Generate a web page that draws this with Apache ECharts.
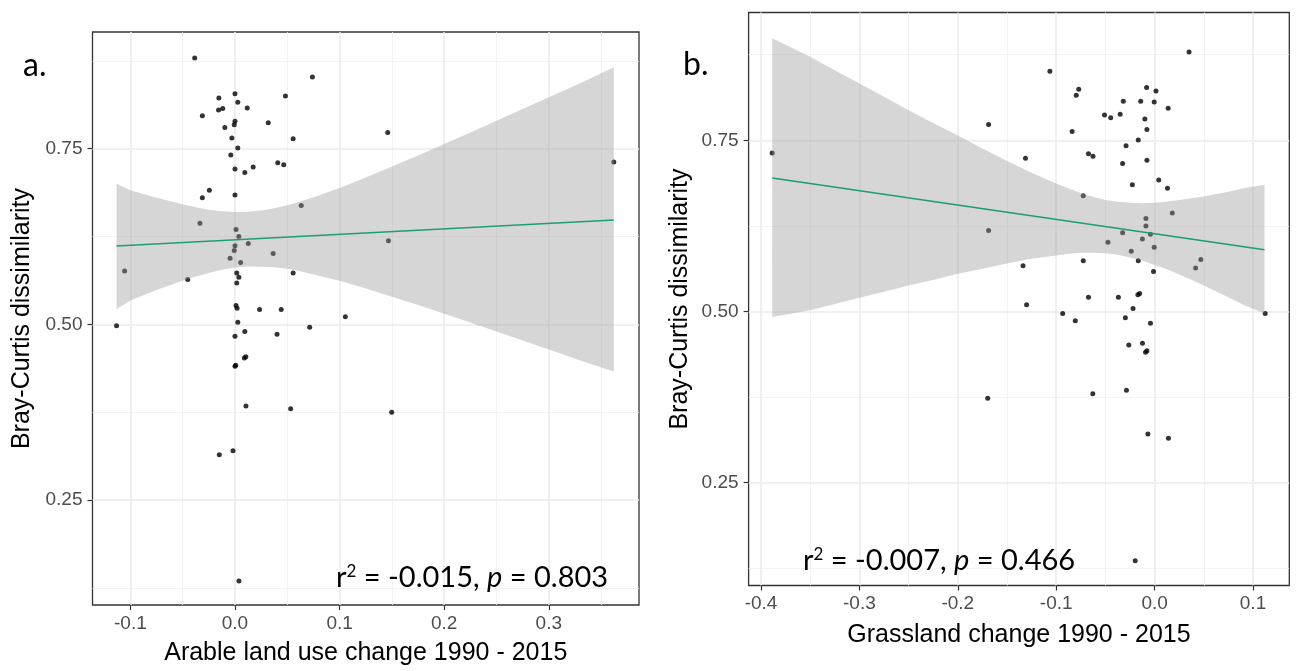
<!DOCTYPE html>
<html><head><meta charset="utf-8">
<script src="https://cdn.jsdelivr.net/npm/echarts@6/dist/echarts.min.js"></script>
<style>html,body{margin:0;padding:0;background:#fff}#c{width:1298px;height:671px}</style>
</head><body><div id="c"></div>
<script>
// Panel a: arable land use change vs Bray-Curtis dissimilarity
const arableX = [-0.0385,0.074,0.000,-0.0154,0.0482,0.0027,0.0117,-0.0157,-0.0117,-0.0312,0.0318,0.000,-0.0007,-0.0097,-0.003,0.0556,0.146,0.0027,-0.004,0.000,0.0174,0.0094,0.0409,0.0466,0.3621,-0.0245,-0.0312,0.000,0.0633,-0.0335,0.001,0.0037,0.0127,0.000,-0.0007,0.0365,0.1467,-0.0047,0.0054,-0.1055,-0.0452,0.0556,0.0017,0.0037,0.0017,0.001,0.002,0.0235,0.0442,0.1055,0.0027,-0.1132,0.0714,0.000,0.0094,0.0402,0.009,0.0104,0.000,0.0007,0.0105,0.0532,0.1498,-0.015,-0.0019,0.0038];
const arableY = [0.879,0.852,0.828,0.822,0.825,0.816,0.808,0.805,0.807,0.797,0.787,0.789,0.784,0.780,0.765,0.764,0.773,0.751,0.741,0.721,0.724,0.716,0.730,0.727,0.731,0.691,0.680,0.684,0.669,0.644,0.635,0.625,0.615,0.612,0.605,0.601,0.619,0.594,0.588,0.576,0.564,0.573,0.573,0.567,0.559,0.527,0.523,0.521,0.521,0.511,0.503,0.498,0.496,0.483,0.490,0.486,0.452,0.454,0.4405,0.442,0.384,0.380,0.375,0.3145,0.320,0.135];
// Panel b: grassland change vs Bray-Curtis dissimilarity
const grassX = [-0.3886,0.035,-0.1064,-0.0771,-0.0796,-0.0081,0.0014,-0.0318,-0.0141,-0.0004,0.0138,-0.0509,-0.0446,-0.035,-0.0099,-0.0078,-0.1687,-0.0838,-0.0166,-0.029,-0.1312,-0.0672,-0.0626,-0.0325,-0.0078,-0.0226,0.0042,0.0131,-0.0725,0.018,-0.0088,-0.0088,-0.1687,-0.0325,-0.0042,-0.0124,-0.0474,-0.0237,-0.0004,0.047,0.0417,-0.0725,-0.0166,-0.1337,-0.0011,-0.0672,-0.0368,-0.017,-0.0152,-0.1301,-0.0219,-0.0934,0.1124,-0.0806,-0.0297,-0.0042,-0.0262,-0.0123,-0.0092,-0.0078,-0.0628,-0.0286,-0.0068,0.0141,-0.0197,-0.1696];
const grassY = [0.7315,0.879,0.851,0.8245,0.816,0.827,0.822,0.807,0.807,0.806,0.797,0.787,0.783,0.788,0.781,0.766,0.773,0.763,0.7505,0.742,0.724,0.7305,0.7266,0.716,0.721,0.685,0.692,0.680,0.669,0.644,0.636,0.625,0.6185,0.615,0.613,0.606,0.601,0.588,0.594,0.576,0.5635,0.574,0.574,0.567,0.5586,0.521,0.521,0.5245,0.5265,0.510,0.5046,0.497,0.497,0.4866,0.491,0.483,0.4513,0.4538,0.4406,0.4426,0.380,0.385,0.321,0.315,0.136,0.3735];

// Confidence bands
const arableBandX  = [-0.1132,-0.1,-0.075,-0.05,-0.0375,-0.025,-0.0125,0,0.0125,0.025,0.0375,0.05,0.0625,0.075,0.1,0.125,0.15,0.175,0.2,0.225,0.25,0.275,0.3,0.33,0.3621];
const arableBandUp = [0.700,0.691,0.680,0.671,0.6667,0.663,0.661,0.660,0.6603,0.662,0.6652,0.6695,0.6748,0.681,0.694,0.709,0.7246,0.7404,0.7566,0.7731,0.7896,0.8064,0.8231,0.8432,0.8658];
const arableBandLo = [0.522,0.534,0.549,0.562,0.5681,0.573,0.5776,0.581,0.5823,0.582,0.5812,0.579,0.5756,0.571,0.562,0.551,0.5394,0.5274,0.515,0.5025,0.4898,0.477,0.4641,0.4486,0.4329];
const grassBandX  = [-0.3886,-0.35,-0.325,-0.3,-0.275,-0.25,-0.225,-0.2,-0.175,-0.15,-0.125,-0.1,-0.0875,-0.075,-0.0625,-0.05,-0.0375,-0.025,-0.0125,0,0.0125,0.025,0.0375,0.05,0.0625,0.075,0.09,0.1117];
const grassBandUp = [0.899,0.872,0.8523,0.833,0.8137,0.794,0.7754,0.757,0.738,0.720,0.7028,0.687,0.6796,0.673,0.6677,0.663,0.6602,0.659,0.6582,0.659,0.6605,0.663,0.6654,0.668,0.6718,0.675,0.680,0.685];
const grassBandLo = [0.492,0.502,0.5111,0.520,0.5289,0.538,0.5462,0.555,0.5626,0.570,0.577,0.582,0.5844,0.586,0.5859,0.585,0.5828,0.579,0.5744,0.568,0.5617,0.554,0.5464,0.538,0.5294,0.521,0.5098,0.497];

// Fitted lines
const arableFitX = [-0.1132, 0.3621];
const arableFitY = [0.6115, 0.6484];
const grassFitX = [-0.3886, 0.1117];
const grassFitY = [0.695, 0.5903];

// Ticks
const arableXTicks = [-0.1, 0, 0.1, 0.2, 0.3];
const arableXMinor = [-0.05, 0.05, 0.15, 0.25, 0.35];
const grassXTicks = [-0.4, -0.3, -0.2, -0.1, 0, 0.1];
const grassXMinor = [-0.35, -0.25, -0.15, -0.05, 0.05];
const yTicks = [0.25, 0.5, 0.75];
const yMinor = [0.125, 0.375, 0.625, 0.875];

const FONT = "'Liberation Sans', Arial, sans-serif";
const ANNOT = "Lato, 'Open Sans', sans-serif";

const arableRange = { x: [-0.1362, 0.3862], y: [0.1007, 0.916] };
const grassRange  = { x: [-0.4126, 0.1369], y: [0.0999, 0.9367] };

function zip(a, b) { return a.map((v, i) => [v, b[i]]); }

function xAxisCfg(gi, rng, ticks, name, gap) {
  return {
    type: 'value', gridIndex: gi, min: rng.x[0], max: rng.x[1],
    axisLine: { show: false, onZero: false },
    axisTick: { show: true, customValues: ticks, length: 5, lineStyle: { color: '#333', width: 1.2 } },
    axisLabel: { customValues: ticks, formatter: v => v.toFixed(1), color: '#4d4d4d', fontSize: 19, fontFamily: FONT, margin: 9 },
    splitLine: { show: false },
    name: name, nameLocation: 'middle', nameGap: gap,
    nameTextStyle: { color: '#000', fontSize: 25, fontFamily: FONT }
  };
}
function yAxisCfg(gi, rng, gap) {
  return {
    type: 'value', gridIndex: gi, min: rng.y[0], max: rng.y[1],
    axisLine: { show: false, onZero: false },
    axisTick: { show: true, customValues: yTicks, length: 5, lineStyle: { color: '#333', width: 1.2 } },
    axisLabel: { customValues: yTicks, formatter: v => v.toFixed(2), color: '#4d4d4d', fontSize: 19, fontFamily: FONT, margin: 10 },
    splitLine: { show: false },
    name: 'Bray-Curtis dissimilarity', nameLocation: 'middle', nameGap: gap,
    nameTextStyle: { color: '#000', fontSize: 25, fontFamily: FONT }
  };
}
function gridLines(gi, rng, xMaj, xMin) {
  const maj = { color: '#ebebeb', width: 1.5, type: 'solid' };
  const mnr = { color: '#f0f0f0', width: 0.8, type: 'solid' };
  const d = [];
  const vx = (v, st) => d.push([{ coord: [v, rng.y[0]], lineStyle: st }, { coord: [v, rng.y[1]] }]);
  const hy = (v, st) => d.push([{ coord: [rng.x[0], v], lineStyle: st }, { coord: [rng.x[1], v] }]);
  xMin.forEach(v => vx(v, mnr));
  yMinor.forEach(v => hy(v, mnr));
  xMaj.forEach(v => vx(v, maj));
  yTicks.forEach(v => hy(v, maj));
  return {
    type: 'line', xAxisIndex: gi, yAxisIndex: gi, data: [], z: 0, silent: true,
    markLine: { z: 0, silent: true, symbol: ['none', 'none'], label: { show: false }, animation: false, data: d }
  };
}
function band(gi, bx, up, lo) {
  return {
    type: 'custom', xAxisIndex: gi, yAxisIndex: gi, z: 3, silent: true,
    data: [[bx[0], up[0]]],
    renderItem: function (params, api) {
      const pts = [];
      for (let i = 0; i < bx.length; i++) pts.push(api.coord([bx[i], up[i]]));
      for (let i = bx.length - 1; i >= 0; i--) pts.push(api.coord([bx[i], lo[i]]));
      return { type: 'polygon', shape: { points: pts }, style: { fill: 'rgba(153,153,153,0.4)' } };
    }
  };
}
const annotRich = {
  t: { fontSize: 29, fontFamily: ANNOT, fill: '#000' },
  s: { fontSize: 17, fontFamily: ANNOT, verticalAlign: 'top', fill: '#000' },
  i: { fontSize: 29, fontFamily: ANNOT, fontStyle: 'italic', fill: '#000' }
};

const chart = echarts.init(document.getElementById('c'), null, { renderer: 'canvas' });
chart.setOption({
  animation: false,
  backgroundColor: '#fff',
  grid: [
    { left: 92.5, top: 32, width: 546.5, height: 575, show: true, borderColor: '#333', borderWidth: 1.3, backgroundColor: '#fff' },
    { left: 748.6, top: 12.5, width: 540.7, height: 573, show: true, borderColor: '#333', borderWidth: 1.3, backgroundColor: '#fff' }
  ],
  xAxis: [
    xAxisCfg(0, arableRange, arableXTicks, 'Arable land use change 1990 - 2015', 36),
    xAxisCfg(1, grassRange, grassXTicks, 'Grassland change 1990 - 2015', 37)
  ],
  yAxis: [
    yAxisCfg(0, arableRange, 58),
    yAxisCfg(1, grassRange, 56)
  ],
  series: [
    gridLines(0, arableRange, arableXTicks, arableXMinor),
    gridLines(1, grassRange, grassXTicks, grassXMinor),
    { type: 'scatter', xAxisIndex: 0, yAxisIndex: 0, z: 2, symbolSize: 5, itemStyle: { color: '#000' }, data: zip(arableX, arableY) },
    { type: 'scatter', xAxisIndex: 1, yAxisIndex: 1, z: 2, symbolSize: 5, itemStyle: { color: '#000' }, data: zip(grassX, grassY) },
    band(0, arableBandX, arableBandUp, arableBandLo),
    band(1, grassBandX, grassBandUp, grassBandLo),
    { type: 'line', xAxisIndex: 0, yAxisIndex: 0, z: 4, symbol: 'none', silent: true, lineStyle: { color: '#1b9e77', width: 1.6 }, data: zip(arableFitX, arableFitY) },
    { type: 'line', xAxisIndex: 1, yAxisIndex: 1, z: 4, symbol: 'none', silent: true, lineStyle: { color: '#1b9e77', width: 1.6 }, data: zip(grassFitX, grassFitY) }
  ],
  graphic: [
    { type: 'text', left: 23, top: 50, z: 10, style: { text: 'a.', fill: '#000', font: '32px ' + ANNOT } },
    { type: 'text', left: 683, top: 49, z: 10, style: { text: 'b.', fill: '#000', font: '32px ' + ANNOT } },
    { type: 'text', left: 336, top: 563, z: 10, style: { text: '{t|r}{s|2}{t| = -0.015, }{i|p}{t| = 0.803}', rich: annotRich } },
    { type: 'text', left: 803, top: 546, z: 10, style: { text: '{t|r}{s|2}{t| = -0.007, }{i|p}{t| = 0.466}', rich: annotRich } }
  ]
});
</script></body></html>
